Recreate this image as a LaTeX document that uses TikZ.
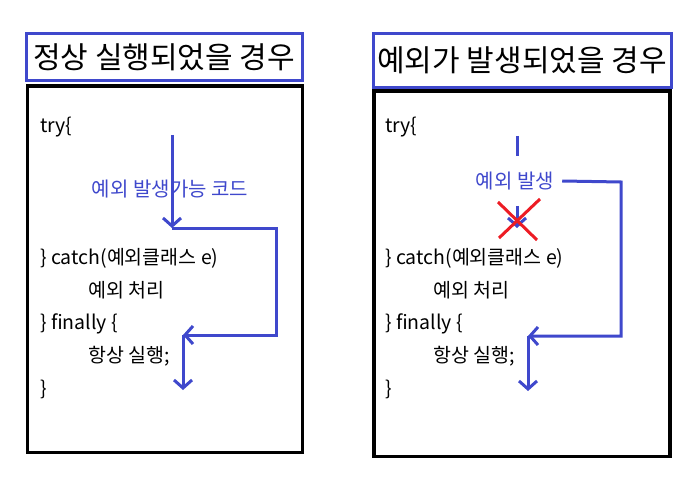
\documentclass[tikz,border=0pt]{standalone}
\usepackage{fontspec}
\setmainfont{Noto Sans CJK KR}
\usepackage{xcolor}
\usepackage{tikz}
\usetikzlibrary{arrows.meta,positioning}
\definecolor{flowblue}{HTML}{3F48CC}
\definecolor{crossred}{HTML}{ED1C24}

\begin{document}
\begin{tikzpicture}[
  x=1pt,y=-1pt,
  titlebox/.style={draw=flowblue,line width=3pt},
  codebox/.style={draw=black,line width=3.5pt},
  titletext/.style={font=\fontsize{30}{34}\selectfont,inner sep=0pt},
  code/.style={anchor=west,inner sep=0pt,font=\fontsize{19.5}{23}\selectfont},
  note/.style={inner sep=0pt,font=\fontsize{20}{23}\selectfont,text=flowblue},
  flow/.style={line width=3pt,flowblue},
  arr/.style={flow,-{Straight Barb[length=8pt,width=18pt]}},
  cross/.style={line width=3pt,crossred}
]
\useasboundingbox (0,0) rectangle (694,484);

% Left panel: normal run
\draw[titlebox] (26.5,34) rectangle (302,81);
\node[titletext] (lTitle) at (164,57.5) {정상 실행되었을 경우};
\draw[codebox] (27.5,86) rectangle (302.5,452.5);

\node[code] (lTry) at (40,127) {try\{};
\node[note] (lRisk) at (170,189) {예외 발생가능 코드};
\node[code] (lCatch) at (40,258) {\} catch(예외클래스 e)};
\node[code] (lHandle) at (88,290) {예외 처리};
\node[code] (lFinally) at (40,324) {\} finally \{};
\node[code] (lAlways) at (88,356) {항상 실행;};
\node[code] (lClose) at (40,389) {\}};

\coordinate (lStart) at (172,135);
\coordinate (lHit) at (172,228);
\coordinate (lTurn) at (276,228);
\coordinate (lJoin) at (183,335);
\coordinate (lEnd) at (183,390);

\draw[arr] (lStart) -- (lHit);
\draw[arr] (lHit) -- (lTurn) |- (lJoin);
\draw[arr] (lJoin) -- (lEnd);

% Right panel: exception thrown
\draw[titlebox] (373.5,34) rectangle (671,87.5);
\node[titletext] (rTitle) at (522,60.5) {예외가 발생되었을 경우};
\draw[codebox] (374,91) rectangle (670,456.5);

\node[code] (rTry) at (385,127) {try\{};
\node[note] (rThrow) at (515,181) {예외 발생};
\node[code] (rCatch) at (385,258) {\} catch(예외클래스 e)};
\node[code] (rHandle) at (433,290) {예외 처리};
\node[code] (rFinally) at (385,324) {\} finally \{};
\node[code] (rAlways) at (433,356) {항상 실행;};
\node[code] (rClose) at (385,389) {\}};

\coordinate (rStart) at (517,136);
\coordinate (rStop) at (517,156);
\coordinate (rSkip) at (517,206);
\coordinate (rMiss) at (517,228);
\coordinate (rTurn) at (621,182);
\coordinate (rJoin) at (528,336);
\coordinate (rEnd) at (528,391);

\draw[flow] (rStart) -- (rStop);
\draw[arr] (rSkip) -- (rMiss);
\draw[arr] ([xshift=8pt]rThrow.east) -- (rTurn) |- (rJoin);
\draw[arr] (rJoin) -- (rEnd);

% red cross over the skipped path
\draw[cross] (498,202) -- (537,240);
\draw[cross] (540,199) -- (499,238);

\end{tikzpicture}
\end{document}
